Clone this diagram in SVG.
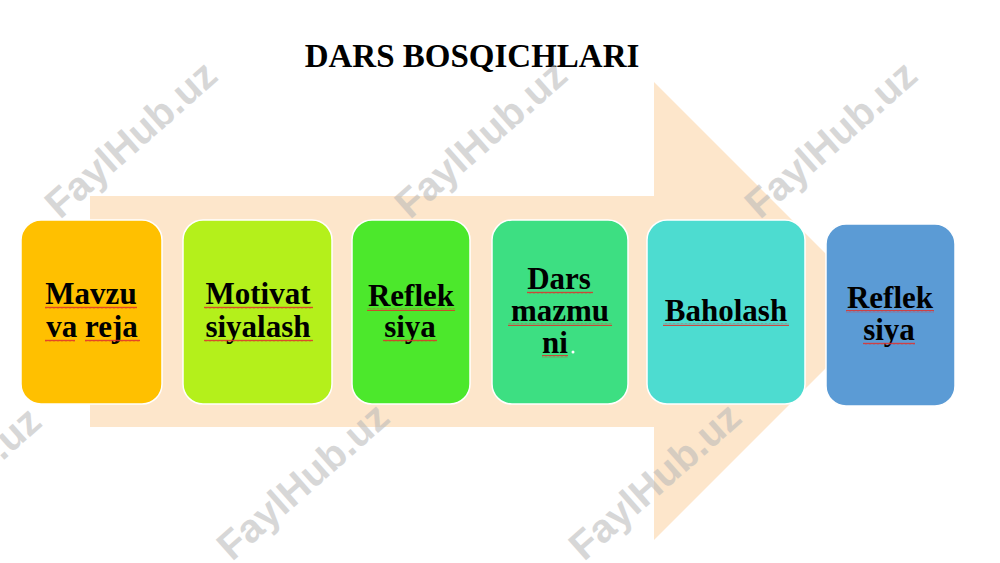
<svg xmlns="http://www.w3.org/2000/svg" width="1000" height="563" viewBox="0 0 1000 563">
<defs>
<pattern id="sq" width="4" height="3" patternUnits="userSpaceOnUse">
<path d="M0,2.4 L1,0.8 L2,2.4 L3,0.8 L4,2.4" fill="none" stroke="#e0302a" stroke-width="0.9"/>
</pattern>
<style>
.box{stroke:#ffffff;stroke-width:1.5}
.lbl{font-family:"Liberation Serif","Times New Roman",serif;font-weight:bold;font-size:31px;fill:#000;text-anchor:middle}
.title{font-family:"Liberation Serif","Times New Roman",serif;font-weight:bold;font-size:33px;fill:#000;text-anchor:middle}
.wm{font-family:"Liberation Sans",Arial,sans-serif;font-weight:bold;font-size:40px;fill:#b8b8b8;opacity:0.55}
.sq{fill:url(#sq)}
</style>
</defs>
<rect width="1000" height="563" fill="#ffffff"/>
<g id="background-arrow">
<path d="M90,196 L654,196 L654,82 L883,311 L654,540 L654,427 L90,427 Z" fill="#fde6cb"/>
</g>
<text class="title" x="472" y="67">DARS BOSQICHLARI</text>
<g id="node-1">
<rect class="box" x="21" y="220" width="141" height="184" rx="20" fill="#ffc000"/>
<text class="lbl" x="91" y="304">Mavzu</text>
<text class="lbl" x="92" y="337">va reja</text>
<rect class="sq" x="45" y="306" width="92" height="3"/>
<rect class="sq" x="45" y="339" width="30" height="3"/>
<rect class="sq" x="85" y="339" width="55" height="3"/>
</g>
<g id="node-2">
<rect class="box" x="183" y="220" width="149" height="184" rx="20" fill="#b4f01b"/>
<text class="lbl" x="258" y="304">Motivat</text>
<text class="lbl" x="258" y="337">siyalash</text>
<rect class="sq" x="204" y="306" width="109" height="3"/>
<rect class="sq" x="204" y="339" width="109" height="3"/>
</g>
<g id="node-3">
<rect class="box" x="352" y="220" width="118" height="184" rx="20" fill="#4ce82c"/>
<text class="lbl" x="411" y="306">Reflek</text>
<text class="lbl" x="410" y="337">siya</text>
<rect class="sq" x="367" y="308" width="88" height="3"/>
<rect class="sq" x="383" y="339" width="54" height="3"/>
</g>
<g id="node-4">
<rect class="box" x="492" y="220" width="136" height="184" rx="20" fill="#3ddf82"/>
<text class="lbl" x="559" y="289">Dars</text>
<text class="lbl" x="560" y="321">mazmu</text>
<text class="lbl" x="555" y="353">ni</text>
<circle cx="573" cy="352" r="1.5" fill="#ffffff"/>
<rect class="sq" x="527" y="291" width="66" height="3"/>
<rect class="sq" x="508" y="323" width="104" height="3"/>
<rect class="sq" x="542" y="355" width="26" height="3"/>
</g>
<g id="node-5">
<rect class="box" x="647" y="220" width="158" height="184" rx="20" fill="#4ddcd0"/>
<text class="lbl" x="726" y="321">Baholash</text>
<rect class="sq" x="663" y="323" width="126" height="3"/>
</g>
<g id="node-6">
<rect class="box" x="826" y="224" width="129" height="182" rx="20" fill="#5b9bd5"/>
<text class="lbl" x="890" y="308">Reflek</text>
<text class="lbl" x="889" y="340">siya</text>
<rect class="sq" x="846" y="310" width="88" height="3"/>
<rect class="sq" x="863" y="342" width="52" height="3"/>
</g>
<g id="watermarks">
<text class="wm" transform="translate(60,220) rotate(-41.5)">FaylHub.uz</text>
<text class="wm" transform="translate(410,220) rotate(-41.5)">FaylHub.uz</text>
<text class="wm" transform="translate(760,220) rotate(-41.5)">FaylHub.uz</text>
<text class="wm" transform="translate(-116,566) rotate(-41.5)">FaylHub.uz</text>
<text class="wm" transform="translate(232,562) rotate(-41.5)">FaylHub.uz</text>
<text class="wm" transform="translate(584,562) rotate(-41.5)">FaylHub.uz</text>
</g>
</svg>
